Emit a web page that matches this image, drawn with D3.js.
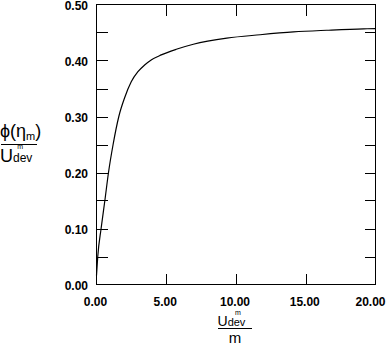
<!DOCTYPE html>
<html>
<head>
<meta charset="utf-8">
<script src="https://cdn.jsdelivr.net/npm/d3@7"></script>
<style>
	body { margin: 0; background: #fff; }
	svg { display: block; font-family: "Liberation Sans", Arial, sans-serif; }
	.tick-label { font-size: 12px; font-weight: bold; }
</style>
</head>
<body>
<div id="chart"></div>
<script>
(function () {
	'use strict';

	// curve
	var ratioValues = [0, 0.09, 0.33, 0.6, 0.86, 1.19, 1.6, 2.01, 2.49, 2.97, 3.45, 3.92, 4.64, 5.72, 6.94, 9.34, 11.73, 14.12, 16.5, 19.15, 20];
	var phiValues = [0.016, 0.05, 0.10, 0.15, 0.20, 0.25, 0.30, 0.333, 0.362, 0.380, 0.392, 0.401, 0.410, 0.420, 0.429, 0.440, 0.446, 0.451, 0.454, 0.4566, 0.457];

	var xTickLabels = [0, 5, 10, 15, 20];
	var xInnerTicks = [5, 10, 15];
	var yTickLabels = [0, 0.1, 0.2, 0.3, 0.4, 0.5];
	var yInnerTicks = [0.05, 0.1, 0.15, 0.2, 0.25, 0.3, 0.35, 0.4, 0.45];

	var width = 391,
		height = 361,
		tickLength = 11;

	var x = d3.scaleLinear().domain([0, 20]).range([96.5, 375.5]);
	var y = d3.scaleLinear().domain([0, 0.5]).range([284.5, 4.5]);

	var svg = d3.select('#chart')
		.append('svg')
		.attr('width', width)
		.attr('height', height);

	var frame = svg.append('g')
		.attr('shape-rendering', 'crispEdges');

	frame.append('rect')
		.attr('x', x(0))
		.attr('y', y(0.5))
		.attr('width', x(20) - x(0))
		.attr('height', y(0) - y(0.5))
		.attr('fill', 'none')
		.attr('stroke', '#000')
		.attr('stroke-width', 1);

	// ticks on all four sides, pointing inwards
	frame.selectAll('.x-tick-bottom')
		.data(xInnerTicks)
		.enter()
		.append('line')
		.attr('x1', function (d) { return Math.round(x(d)) + 0.5; })
		.attr('x2', function (d) { return Math.round(x(d)) + 0.5; })
		.attr('y1', y(0))
		.attr('y2', y(0) - tickLength)
		.attr('stroke', '#000');

	frame.selectAll('.x-tick-top')
		.data(xInnerTicks)
		.enter()
		.append('line')
		.attr('x1', function (d) { return Math.round(x(d)) + 0.5; })
		.attr('x2', function (d) { return Math.round(x(d)) + 0.5; })
		.attr('y1', y(0.5))
		.attr('y2', y(0.5) + tickLength)
		.attr('stroke', '#000');

	frame.selectAll('.y-tick-left')
		.data(yInnerTicks)
		.enter()
		.append('line')
		.attr('x1', x(0))
		.attr('x2', x(0) + tickLength)
		.attr('y1', function (d) { return Math.round(y(d)) + 0.5; })
		.attr('y2', function (d) { return Math.round(y(d)) + 0.5; })
		.attr('stroke', '#000');

	frame.selectAll('.y-tick-right')
		.data(yInnerTicks)
		.enter()
		.append('line')
		.attr('x1', x(20))
		.attr('x2', x(20) - tickLength)
		.attr('y1', function (d) { return Math.round(y(d)) + 0.5; })
		.attr('y2', function (d) { return Math.round(y(d)) + 0.5; })
		.attr('stroke', '#000');

	svg.selectAll('.x-label')
		.data(xTickLabels)
		.enter()
		.append('text')
		.classed('tick-label', true)
		.attr('x', function (d) { return x(d) - (d === 20 ? 5 : 1); })
		.attr('y', 305.5)
		.attr('text-anchor', 'middle')
		.text(function (d) { return d.toFixed(2); });

	svg.selectAll('.y-label')
		.data(yTickLabels)
		.enter()
		.append('text')
		.classed('tick-label', true)
		.attr('x', 88)
		.attr('y', function (d) { return y(d) + 5; })
		.attr('text-anchor', 'end')
		.text(function (d) { return d.toFixed(2); });

	var points = ratioValues.map(function (r, i) {
		return [r, phiValues[i]];
	});

	var line = d3.line()
		.x(function (d) { return x(d[0]); })
		.y(function (d) { return y(d[1]); })
		.curve(d3.curveMonotoneX);

	svg.append('path')
		.datum(points)
		.attr('d', line)
		.attr('fill', 'none')
		.attr('stroke', '#000')
		.attr('stroke-width', 1.2);

	// x axis title: U_dev^m over m (sub and sup stacked inside one text)
	var xTitle = svg.append('g');

	var xNumerator = xTitle.append('text')
		.attr('x', 217.5)
		.attr('y', 326)
		.attr('font-size', 14);

	xNumerator.append('tspan').text('U');
	xNumerator.append('tspan')
		.attr('font-size', 11)
		.text('dev');
	xNumerator.append('tspan')
		.attr('font-size', 7)
		.attr('dx', -10.5)
		.attr('dy', -11.5)
		.text('m');

	xTitle.append('line')
		.attr('x1', 218)
		.attr('x2', 252)
		.attr('y1', 328.5)
		.attr('y2', 328.5)
		.attr('stroke', '#000');

	xTitle.append('text')
		.attr('x', 235)
		.attr('y', 343)
		.attr('text-anchor', 'middle')
		.attr('font-size', 15)
		.text('m');

	// y axis title: phi(eta_m) over U_dev^m
	var yTitle = svg.append('g');

	var phiText = yTitle.append('text')
		.attr('x', 0)
		.attr('y', 137)
		.attr('font-size', 18);

	phiText.append('tspan').text('\u03d5(\u03b7');
	phiText.append('tspan')
		.attr('font-size', 11)
		.attr('dy', 3)
		.text('m');
	phiText.append('tspan')
		.attr('dy', -3)
		.text(')');

	yTitle.append('line')
		.attr('x1', 1)
		.attr('x2', 37)
		.attr('y1', 144.5)
		.attr('y2', 144.5)
		.attr('stroke', '#000');

	var yDenominator = yTitle.append('text')
		.attr('x', 0)
		.attr('y', 161.5)
		.attr('font-size', 18);

	yDenominator.append('tspan').text('U');
	yDenominator.append('tspan')
		.attr('font-size', 12)
		.text('dev');
	yDenominator.append('tspan')
		.attr('font-size', 7)
		.attr('dx', -15)
		.attr('dy', -12.5)
		.text('m');
}());
</script>
</body>
</html>
